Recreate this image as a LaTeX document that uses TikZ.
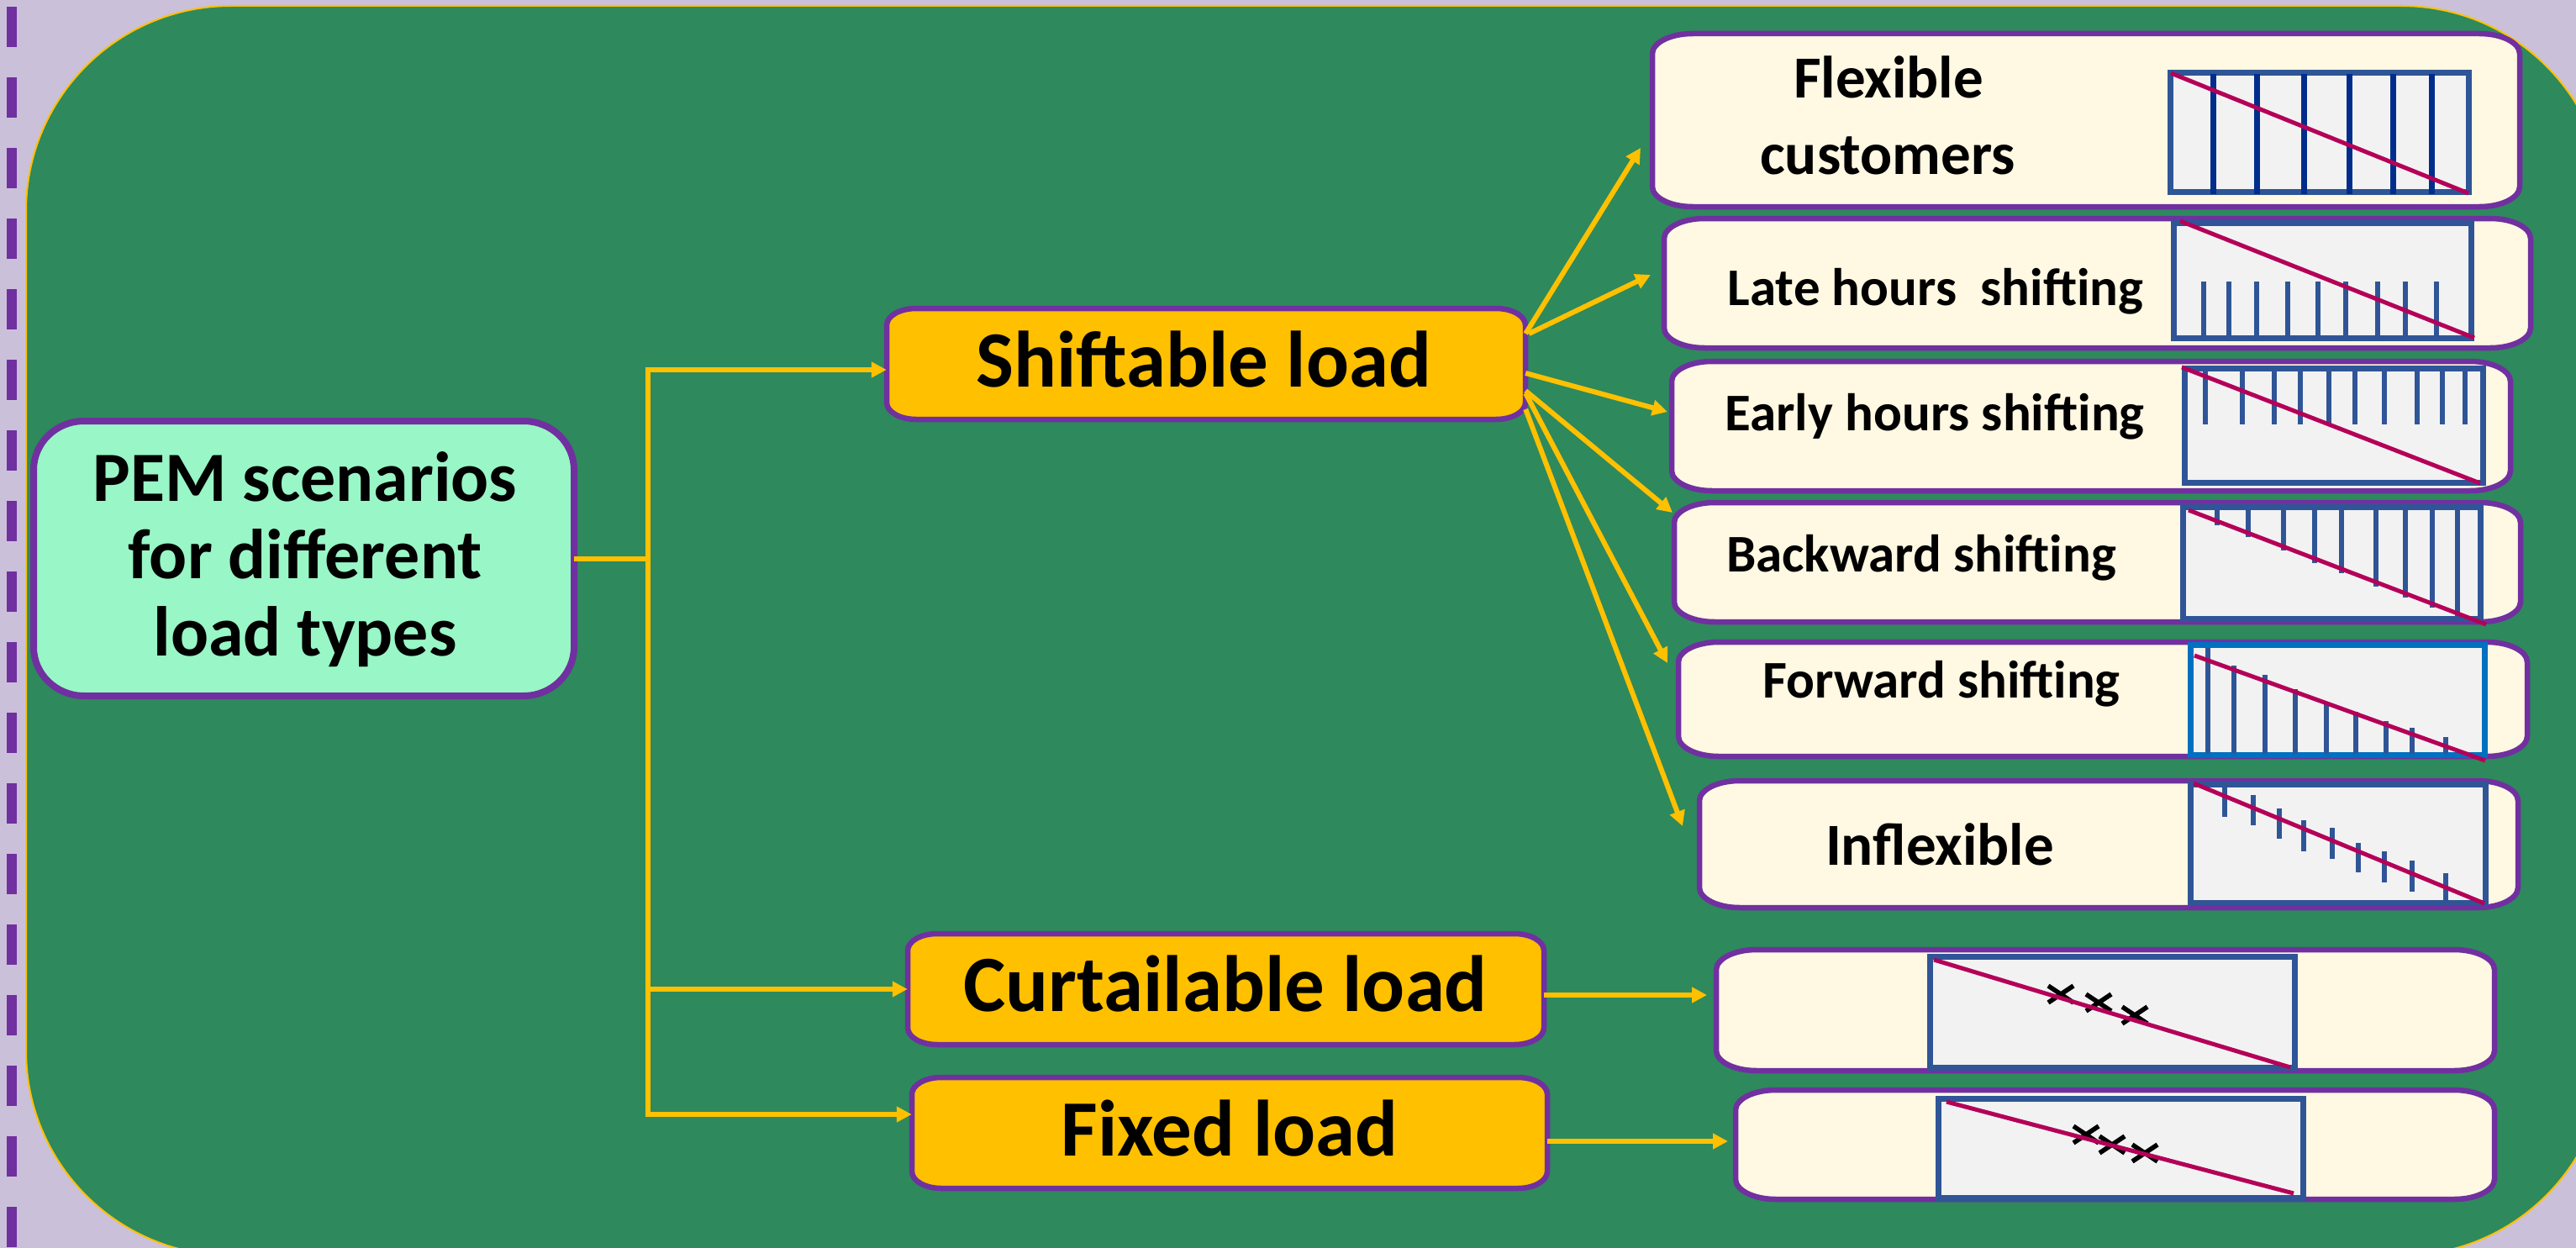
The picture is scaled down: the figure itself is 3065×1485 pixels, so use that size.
\documentclass[tikz,border=0pt]{standalone}
\usepackage{fontspec}
\setmainfont{Carlito}
\usetikzlibrary{arrows.meta}
\definecolor{bglav}{RGB}{203,192,217}
\definecolor{dashpur}{RGB}{112,48,160}
\definecolor{pgreen}{RGB}{46,137,92}
\definecolor{ylw}{RGB}{255,192,0}
\definecolor{mint}{RGB}{153,246,198}
\definecolor{cream}{RGB}{255,248,226}
\definecolor{chartbg}{RGB}{242,242,242}
\definecolor{frameblue}{RGB}{47,85,151}
\definecolor{navyblue}{RGB}{0,45,140}
\definecolor{fwdblue}{RGB}{0,112,192}
\definecolor{diagred}{RGB}{180,0,88}

% elliptical-corner box: [style]{name}{x1}{y1}{x2}{y2}{rx}{ry}  (pixel coords, y downward)
\newcommand\ebox[8][]{%
 \path[#1] ({#3+#7},{-#4}) -- ({#5-#7},{-#4})
  .. controls ({#5-0.448*#7},{-#4}) and ({#5},{-#4-0.448*#8}) .. ({#5},{-#4-#8})
  -- ({#5},{-#6+#8})
  .. controls ({#5},{-#6+0.448*#8}) and ({#5-0.448*#7},{-#6}) .. ({#5-#7},{-#6})
  -- ({#3+#7},{-#6})
  .. controls ({#3+0.448*#7},{-#6}) and ({#3},{-#6+0.448*#8}) .. ({#3},{-#6+#8})
  -- ({#3},{-#4-#8})
  .. controls ({#3},{-#4-0.448*#8}) and ({#3+0.448*#7},{-#4}) .. ({#3+#7},{-#4}) -- cycle;
 \node[inner sep=0pt, minimum width={#5-#3}, minimum height={#6-#4}] (#2) at ({(#3+#5)/2},{-(#4+#6)/2}) {};
}
% chart frame: {framecolor}{x1}{y1}{x2}{y2} outer edges
\newcommand\chartframe[5]{%
 \path[fill=chartbg, draw=#1, line width=7pt] ({#2+3.5},{-#3-3.5}) rectangle ({#4-3.5},{-#5+3.5});
}

\tikzset{
 conn/.style={ylw, line width=6pt},
 arr/.style={conn, -{Triangle[length=18pt,width=18pt]}},
 obox/.style={fill=ylw, draw=dashpur, line width=6.5pt},
 cbox/.style={fill=cream, draw=dashpur, line width=6.5pt},
 mbox/.style={fill=mint, draw=dashpur, line width=8pt},
 ptxt/.style={anchor=base, inner sep=0pt, font=\bfseries\fontsize{84}{92}\selectfont},
 btxt/.style={anchor=base, inner sep=0pt, font=\bfseries\fontsize{95}{100}\selectfont},
 mtxt/.style={anchor=base, inner sep=0pt, font=\bfseries\fontsize{71}{80}\selectfont},
 stxt/.style={anchor=base, inner sep=0pt, font=\bfseries\fontsize{63}{70}\selectfont},
 diag/.style={diagred, line width=5pt},
 xstroke/.style={black, line width=5.5pt},
}

\begin{document}
\begin{tikzpicture}[x=1pt,y=1pt]
\useasboundingbox (0,0) rectangle (3065,-1485);
% background
\fill[bglav] (0,0) rectangle (3065,-1485);
\draw[dashpur, line width=12pt, dash pattern=on 48pt off 36pt] (14,-8) -- (14,-1490);
\draw[fill=pgreen, draw=ylw, line width=2pt, rounded corners=244pt] (31,-7) rectangle (3101,-1494);

% left / middle boxes
\ebox[mbox]{pem}{40}{501}{683}{828}{60}{58}
\ebox[obox]{shift}{1055}{367}{1815}{499}{35}{20}
\ebox[obox]{curt}{1080}{1111}{1837}{1243}{35}{20}
\ebox[obox]{fixed}{1085}{1282}{1841}{1414}{35}{20}

\node[ptxt] (pemA) at (363,-596) {PEM scenarios};
\node[ptxt] (pemB) at (363,-688) {for different};
\node[ptxt] (pemC) at (363,-780) {load types};
\node[btxt] (tshift) at (1432,-460) {Shiftable load};
\node[btxt] (tcurt) at (1458,-1203) {Curtailable load};
\node[btxt] (tfix) at (1463,-1375) {Fixed load};

% right boxes
\ebox[cbox]{r1}{1966}{40}{2998}{246}{48}{24}
\ebox[cbox]{r2}{1980}{260}{3011}{414}{48}{24}
\ebox[cbox]{r3}{1989}{430}{2987}{584}{48}{24}
\ebox[cbox]{r4}{1992}{598}{2999}{740}{48}{24}
\ebox[cbox]{r5}{1997}{764}{3007}{900}{48}{24}
\ebox[cbox]{r6}{2022}{929}{2996}{1080}{48}{24}
\ebox[cbox]{r7}{2042}{1130}{2968}{1274}{48}{24}
\ebox[cbox]{r8}{2065}{1297}{2968}{1427}{48}{24}

\node[mtxt] (t1a) at (2247,-117) {Flexible};
\node[mtxt] (t1b) at (2246,-207) {customers};
\node[stxt] (t2) at (2303,-363) {Late hours~ shifting};
\node[stxt] (t3) at (2302,-512) {Early hours shifting};
\node[stxt] (t4) at (2286,-680) {Backward shifting};
\node[stxt] (t5) at (2310,-830) {Forward shifting};
\node[mtxt] (t6) at (2308,-1029) {Inflexible};

% charts
% 1 flexible
\chartframe{frameblue}{2579}{83}{2941}{232}
\foreach \x in {2633,2685,2741,2795,2847,2893}
  \draw[navyblue, line width=7pt] (\x,-88) -- (\x,-231);
\draw[diag] (2583,-87) -- (2937,-230);
% 2 late hours
\chartframe{frameblue}{2583}{262}{2944}{406}
\foreach \x in {2622,2652,2685,2722,2758,2791,2829,2862,2899}
  \draw[frameblue, line width=6pt] (\x,-335) -- (\x,-400);
\draw[diag] (2594,-263) -- (2944,-402);
% 3 early hours
\chartframe{frameblue}{2596}{435}{2958}{578}
\foreach \x in {2624,2668,2706,2737,2771,2802,2837,2876,2906,2933}
  \draw[frameblue, line width=6pt] (\x,-440) -- (\x,-505);
\draw[diag] (2596,-437) -- (2951,-575);
% 4 backward
\chartframe{frameblue}{2594}{600}{2955}{740}
\foreach \x in {2638,2675,2717,2754,2786,2827,2862,2894,2924}
  \draw[frameblue, line width=6pt] (\x,-605) -- (\x,{-(612+0.384*(\x-2604))});
\draw[diag] (2604,-607) -- (2958,-743);
% 5 forward
\chartframe{fwdblue}{2603}{764}{2960}{902}
\foreach \x/\t in {2627/771,2658/792,2695/803,2731/820,2768/835,2803/847,2839/858,2870/866,2910/877}
  \draw[frameblue, line width=6pt] (\x,-\t) -- (\x,-897);
\draw[diag] (2611,-780) -- (2957,-905);
% 6 inflexible
\chartframe{frameblue}{2603}{930}{2961}{1078}
\foreach \x/\a/\b in {2647/936/972,2681/946/982,2712/962/998,2741/976/1013,2775/985/1022,2806/1003/1038,2837/1013/1050,2870/1024/1061,2910/1039/1071}
  \draw[frameblue, line width=6pt] (\x,-\a) -- (\x,-\b);
\draw[diag] (2610,-932) -- (2956,-1075);
% 7 curtailable
\chartframe{frameblue}{2293}{1135}{2734}{1274}
\foreach \cx/\cy in {2452/1183,2497/1193,2540/1208}
  \draw[xstroke] ({\cx-15},{-\cy+10}) -- ({\cx+15},{-\cy-10}) ({\cx-15},{-\cy-10}) -- ({\cx+15},{-\cy+10});
\draw[diag] (2301,-1142) -- (2725,-1270);
% 8 fixed
\chartframe{frameblue}{2303}{1304}{2744}{1429}
\foreach \cx/\cy in {2482/1350,2513/1362,2552/1372}
  \draw[xstroke] ({\cx-15},{-\cy+10}) -- ({\cx+15},{-\cy-10}) ({\cx-15},{-\cy-10}) -- ({\cx+15},{-\cy+10});
\draw[diag] (2316,-1311) -- (2729,-1420);

% connectors
\coordinate (jtop) at (771,-440);
\coordinate (jcur) at (771,-1177);
\coordinate (jbot) at (771,-1326);
\draw[conn] (pem.east) -- (pem.east -| jtop);
\draw[conn, line cap=rect] (jtop) -- (jbot);
\draw[arr] (jtop) -- (jtop -| shift.west);
\draw[arr] (jcur) -- (jcur -| curt.west);
\draw[arr] (jbot) -- (jbot -| fixed.west);

\coordinate (e1) at (1952,-176);
\coordinate (e2) at (1964,-327);
\coordinate (e3) at (1984,-490);
\coordinate (e4) at (1990,-610);
\coordinate (e5) at (1984,-789);
\coordinate (e6) at (2002,-983);
\coordinate (c7) at (2031,-1184);
\coordinate (c8) at (2056,-1358);
\draw[arr] ([yshift=36pt]shift.east) -- (e1);
\draw[arr] ([yshift=36pt,xshift=4pt]shift.east) -- (e2);
\draw[arr] ([yshift=-11pt]shift.east) -- (e3);
\draw[arr] ([yshift=-32pt]shift.east) -- (e4);
\draw[arr] ([yshift=-35pt]shift.east) -- (e5);
\draw[arr] ([yshift=-54pt]shift.east) -- (e6);
\draw[arr] ([yshift=-7pt]curt.east) -- (c7);
\draw[arr] ([yshift=-10pt]fixed.east) -- (c8);
\end{tikzpicture}
\end{document}
